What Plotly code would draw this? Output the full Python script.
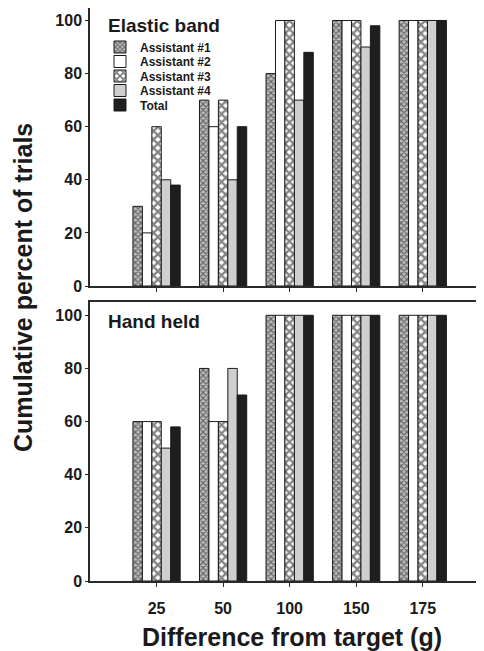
import plotly.graph_objects as go

# ---------------- data ----------------
categories = ["25", "50", "100", "150", "175"]
series_names = ["Assistant #1", "Assistant #2", "Assistant #3", "Assistant #4", "Total"]

elastic_a1 = [30, 70, 80, 100, 100]
elastic_a2 = [20, 60, 100, 100, 100]
elastic_a3 = [60, 70, 100, 100, 100]
elastic_a4 = [40, 40, 70, 90, 100]
elastic_total = [38, 60, 88, 98, 100]

hand_a1 = [60, 80, 100, 100, 100]
hand_a2 = [60, 60, 100, 100, 100]
hand_a3 = [60, 60, 100, 100, 100]
hand_a4 = [50, 80, 100, 100, 100]
hand_total = [58, 70, 100, 100, 100]

y_ticks = [0, 20, 40, 60, 80, 100]

panel_titles = ["Elastic band", "Hand held"]
x_title = "Difference from target (g)"
y_title = "Cumulative percent of trials"

# ---------------- styles ----------------
FONT = "Liberation Sans, Arial, Helvetica, sans-serif"
INK = "#1a1a1a"
LINE = dict(color=INK, width=1)
styles = [
    dict(color="#bdbdbd", pattern=dict(shape="x", bgcolor="#bdbdbd", fgcolor="#111111", size=4, solidity=0.5)),
    dict(color="white"),
    dict(color="white", pattern=dict(shape="x", bgcolor="white", fgcolor="#0a0a0a", size=6, solidity=0.62)),
    dict(color="#cfcfcf"),
    dict(color="#1e1e1e"),
]
legend_ids = ["legend", "legend2", "legend3", "legend4", "legend5"]
legend_centers = [47, 61.5, 76, 90.5, 105]   # reference pixel rows of legend entries

top_series = [elastic_a1, elastic_a2, elastic_a3, elastic_a4, elastic_total]
bot_series = [hand_a1, hand_a2, hand_a3, hand_a4, hand_total]

# page body has an 8px margin: shift everything by it
OFF = 8
W, H = 484 - OFF, 651 - OFF
ML, MR, MT, MB = 90 - OFF, 0, 0, 70
plot_h = H - MT - MB


def py(ref_pix):  # reference pixel row -> paper y
    return (H - MB - (ref_pix - OFF)) / plot_h


def px(ref_pix):  # reference pixel column -> paper x
    return (ref_pix - OFF - ML) / (W - ML - MR)


fig = go.Figure()
for i, (name, vals) in enumerate(zip(series_names, top_series)):
    fig.add_trace(go.Bar(x=categories, y=vals, name=name, xaxis="x", yaxis="y",
                         marker=dict(line=LINE, **styles[i]), legendgroup=name,
                         legend=legend_ids[i], showlegend=True))
for i, (name, vals) in enumerate(zip(series_names, bot_series)):
    fig.add_trace(go.Bar(x=categories, y=vals, name=name, xaxis="x2", yaxis="y2",
                         marker=dict(line=LINE, **styles[i]), legendgroup=name,
                         legend=legend_ids[i], showlegend=False))

top_dom = [py(286), 1]
bot_dom = [0, py(302)]

common_x = dict(type="category", range=[-1.0, 4.92], showline=True, linecolor="#2a2a2a",
                linewidth=1.5, mirror=True, ticks="outside", ticklen=4, tickcolor="#2a2a2a",
                showgrid=False, zeroline=False,
                tickfont=dict(family=FONT, size=16, color=INK, weight="bold"))
common_y = dict(tickvals=y_ticks, showline=True, linecolor="#2a2a2a",
                linewidth=1.5, ticks="outside", ticklen=3, tickcolor="#2a2a2a",
                showgrid=False, zeroline=False,
                tickfont=dict(family=FONT, size=16, color=INK, weight="bold"))

layout = dict(
    width=W, height=H,
    margin=dict(l=ML, r=MR, t=MT, b=MB, autoexpand=False),
    paper_bgcolor="white", plot_bgcolor="white",
    barmode="group", bargap=0.29, bargroupgap=0,
    xaxis=dict(anchor="y", domain=[0, 1], showticklabels=False, **common_x),
    yaxis=dict(anchor="x", domain=top_dom, range=[0, 104.7], **common_y),
    xaxis2=dict(anchor="y2", domain=[0, 1], showticklabels=True, ticklabelstandoff=8, **common_x),
    yaxis2=dict(anchor="x2", domain=bot_dom, range=[0, 105], **common_y),
    annotations=[
        dict(text=panel_titles[0], xref="paper", yref="paper", x=px(106), y=py(25),
             xanchor="left", yanchor="middle", showarrow=False,
             font=dict(family=FONT, size=19, color=INK, weight="bold")),
        dict(text=panel_titles[1], xref="paper", yref="paper", x=px(106), y=py(321),
             xanchor="left", yanchor="middle", showarrow=False,
             font=dict(family=FONT, size=19, color=INK, weight="bold")),
        dict(text=x_title, xref="paper", yref="paper", x=px(292), y=py(637),
             xanchor="center", yanchor="middle", showarrow=False,
             font=dict(family=FONT, size=25, color=INK, weight="bold")),
        dict(text=y_title, xref="paper", yref="paper", x=px(23), y=py(288),
             xanchor="center", yanchor="middle", showarrow=False, textangle=-90,
             font=dict(family=FONT, size=25, color=INK, weight="bold")),
    ],
)
for lid, yc in zip(legend_ids, legend_centers):
    layout[lid] = dict(x=px(100), y=py(yc), xanchor="left", yanchor="middle",
                       bgcolor="rgba(0,0,0,0)", borderwidth=0,
                       font=dict(family=FONT, size=12, color=INK, weight="bold"))
fig.update_layout(**layout)

fig.write_html("out.html")
